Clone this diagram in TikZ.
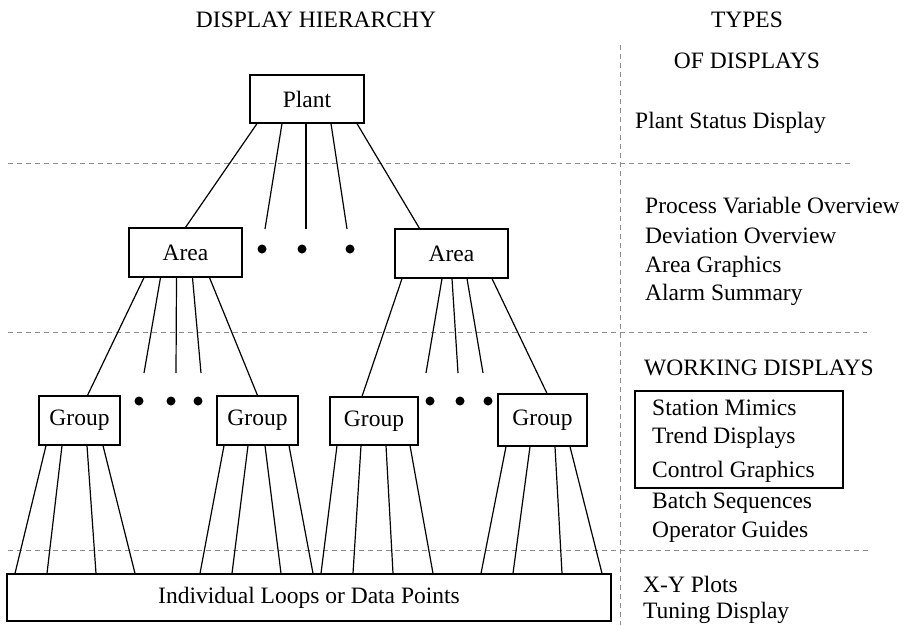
\documentclass[tikz,border=0pt]{standalone}
\usepackage{fontspec}
\setmainfont{Liberation Serif}
\usetikzlibrary{calc}
\begin{document}
\begin{tikzpicture}[x=1pt,y=-1pt,
  every node/.style={font=\fontsize{23.5}{28}\selectfont},
  box/.style={draw,line width=1.2pt,inner sep=0pt},
  conn/.style={line width=1.2pt},
  sep/.style={draw=black!45,line width=0.6pt,dash pattern=on 5pt off 4pt},
  lbl/.style={anchor=base west,inner sep=0pt},
  ttl/.style={anchor=base,inner sep=0pt},
  dotm/.style={circle,fill=black,inner sep=0pt,minimum size=9pt}]
\useasboundingbox (0,0) rectangle (912,625);
% separators
\draw[sep] (8,163) -- (850,163);
\draw[sep] (8,332) -- (867,332);
\draw[sep] (8,550) -- (870,550);
\draw[sep] (620,45) -- (620,625);
% titles
\node[ttl] (t1) at (316,27) {DISPLAY HIERARCHY};
\node[ttl] (t2) at (747,27) {TYPES};
\node[ttl] (t3) at (747,68) {OF DISPLAYS};
% boxes
\node[box,minimum width=114pt,minimum height=48pt] (plant) at (307,99) {Plant};
\node[box,minimum width=113pt,minimum height=49pt] (a1) at (185.5,252.5) {Area};
\node[box,minimum width=113pt,minimum height=49pt] (a2) at (451.5,253.5) {Area};
\node[box,minimum width=81pt,minimum height=49pt] (g1) at (79.5,420.5) {Group};
\node[box,minimum width=81pt,minimum height=49pt] (g2) at (257.5,420.5) {Group};
\node[box,minimum width=88pt,minimum height=48pt] (g3) at (374,421) {Group};
\node[box,minimum width=89pt,minimum height=52pt] (g4) at (542.5,420) {Group};
\node[box,minimum width=604pt,minimum height=47pt] (bot) at (309,597.5) {Individual Loops or Data Points};
% free ends
\coordinate (p1) at (265,229);
\coordinate (p2) at (306,229);
\coordinate (p3) at (347,229);
\coordinate (q1) at (144,373);
\coordinate (q2) at (176,373);
\coordinate (q3) at (201,373);
\coordinate (r1) at (426,373);
\coordinate (r2) at (458,373);
\coordinate (r3) at (483,373);
% dots
\node[dotm] (d1) at (262,249) {};
\node[dotm] (d2) at (302,249) {};
\node[dotm] (d3) at (350,249) {};
\node[dotm] (e1) at (139,401) {};
\node[dotm] (e2) at (171,401) {};
\node[dotm] (e3) at (198,401) {};
\node[dotm] (f1) at (430,401) {};
\node[dotm] (f2) at (460,401) {};
\node[dotm] (f3) at (488,401) {};
% plant fan
\draw[conn] ([xshift=-50pt]plant.south) -- (a1.north);
\draw[conn] ([xshift=-25pt]plant.south) -- (p1);
\draw[conn] ([xshift=-1pt]plant.south) -- (p2);
\draw[conn] ([xshift=24pt]plant.south) -- (p3);
\draw[conn] ([xshift=50pt]plant.south) -- ([xshift=-32pt]a2.north);
% area1 fan
\draw[conn] ([xshift=-41.5pt]a1.south) -- ([xshift=8pt]g1.north);
\draw[conn] ([xshift=-25pt]a1.south) -- (q1);
\draw[conn] ([xshift=-9pt]a1.south) -- (q2);
\draw[conn] ([xshift=7pt]a1.south) -- (q3);
\draw[conn] ([xshift=24pt]a1.south) -- (g2.north);
% area2 fan
\draw[conn] ([xshift=-49.5pt]a2.south) -- ([xshift=-12pt]g3.north);
\draw[conn] ([xshift=-9.5pt]a2.south) -- (r1);
\draw[conn] ([xshift=0.5pt]a2.south) -- (r2);
\draw[conn] ([xshift=15.5pt]a2.south) -- (r3);
\draw[conn] ([xshift=40.5pt]a2.south) -- ([xshift=4.5pt]g4.north);
% group fans
\foreach \g/\c/\ta/\tb/\tc/\td/\ba/\bb/\bc/\bd in {
  g1/79.5/46/62/87/103/15/47/96/135,
  g2/257.5/224/248/265/289/200/232/281/313,
  g3/374/337/361/386/410/321/353/393/433,
  g4/542.5/506/530/555/570/481/513/562/602}{
  \foreach \t/\b in {\ta/\ba,\tb/\bb,\tc/\bc,\td/\bd}{
    \draw[conn] ([xshift={(\t-\c)*1pt}]\g.south) -- ([xshift={(\b-309)*1pt}]bot.north);
  }
}
% right column texts
\node[lbl] (s0) at (635,128) {Plant Status Display};
\node[lbl] (s1) at (645,213) {Process Variable Overview};
\node[lbl] (s2) at (645,243) {Deviation Overview};
\node[lbl] (s3) at (645,272) {Area Graphics};
\node[lbl] (s4) at (645,300) {Alarm Summary};
\node[lbl] (w0) at (644,375) {WORKING DISPLAYS};
\node[draw,line width=1.2pt,minimum width=208pt,minimum height=97pt,inner sep=0pt] (wb) at (739,439.5) {};
\node[lbl] (w1) at (652,415) {Station Mimics};
\node[lbl] (w2) at (652,443) {Trend Displays};
\node[lbl] (w3) at (652,477) {Control Graphics};
\node[lbl] (w4) at (652,508) {Batch Sequences};
\node[lbl] (w5) at (652,537) {Operator Guides};
\node[lbl] (x1) at (643,592) {X-Y Plots};
\node[lbl] (x2) at (643,618) {Tuning Display};
\end{tikzpicture}
\end{document}
